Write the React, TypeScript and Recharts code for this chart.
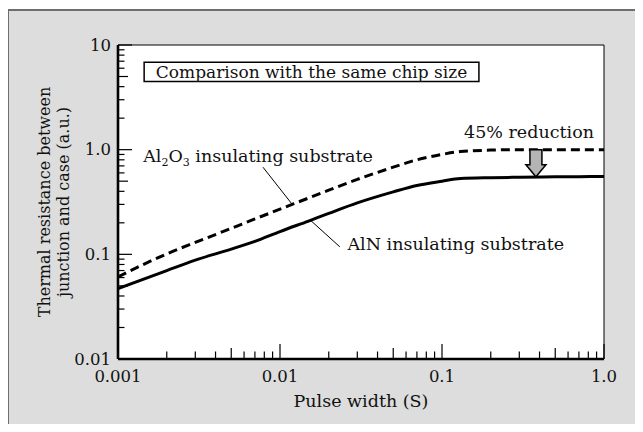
import React from "react";
import {
  LineChart,
  Line,
  XAxis,
  YAxis,
  ReferenceArea,
  ReferenceLine,
  ReferenceDot,
} from "recharts";

const FONT = "'DejaVu Serif', 'Liberation Serif', serif";

// pulse width (s)
const pulseWidth = [0.001, 0.002, 0.003, 0.005, 0.007, 0.01, 0.015, 0.02, 0.03, 0.05, 0.07, 0.1, 0.13, 0.2, 0.3, 0.5, 0.7, 1.0];
// thermal resistance (a.u.)
const al2o3 = [0.061, 0.101, 0.13, 0.177, 0.218, 0.27, 0.345, 0.41, 0.52, 0.68, 0.8, 0.9, 0.96, 0.99, 1.0, 1.0, 1.0, 1.0];
const aln = [0.047, 0.07, 0.088, 0.112, 0.133, 0.165, 0.208, 0.246, 0.31, 0.395, 0.455, 0.5, 0.53, 0.54, 0.545, 0.55, 0.552, 0.555];

const xTicks = [
  0.001, 0.002, 0.003, 0.004, 0.005, 0.006, 0.007, 0.008, 0.009,
  0.01, 0.02, 0.03, 0.04, 0.05, 0.06, 0.07, 0.08, 0.09,
  0.1, 0.2, 0.3, 0.4, 0.5, 0.6, 0.7, 0.8, 0.9, 1.0,
];
const xMajor = [0.001, 0.01, 0.1, 1.0];
const xMid = [0.005, 0.05, 0.5];
const xLabels = ["0.001", "0.01", "0.1", "1.0"];

const yTicks = [
  0.01, 0.02, 0.03, 0.04, 0.05, 0.06, 0.07, 0.08, 0.09,
  0.1, 0.2, 0.3, 0.4, 0.5, 0.6, 0.7, 0.8, 0.9,
  1, 2, 3, 4, 5, 6, 7, 8, 9, 10,
];
const yMajor = [0.01, 0.1, 1, 10];
const yMid = [0.05, 0.5, 5];
const yLabels = ["0.01", "0.1", "1.0", "10"];

const data = pulseWidth.map((x, i) => ({ x, al2o3: al2o3[i], aln: aln[i] }));

function XTick(props: any) {
  const { x, y, payload } = props;
  const v = payload.value;
  const mi = xMajor.indexOf(v);
  const len = mi >= 0 ? 15 : xMid.includes(v) ? 11 : 7.5;
  return (
    <g>
      <line x1={x} x2={x} y1={y} y2={y - len} stroke="#000" strokeWidth={1.2} />
      {mi >= 0 && (
        <text x={x} y={y + 23} textAnchor="middle" fontSize={16.5} fontFamily={FONT} fill="#111">
          {xLabels[mi]}
        </text>
      )}
    </g>
  );
}

function YTick(props: any) {
  const { x, y, payload } = props;
  const v = payload.value;
  const mi = yMajor.indexOf(v);
  const len = mi >= 0 ? 14 : yMid.includes(v) ? 10 : 6.5;
  return (
    <g>
      <line x1={x} x2={x + len} y1={y} y2={y} stroke="#000" strokeWidth={1.2} />
      {mi >= 0 && (
        <text x={x - 7} y={y} textAnchor="end" dominantBaseline="central" fontSize={16.5} fontFamily={FONT} fill="#111">
          {yLabels[mi]}
        </text>
      )}
    </g>
  );
}

const txt = (s: string, anchor: "start" | "end" | "middle" = "start") => (p: any) => (
  <text x={p.cx} y={p.cy} textAnchor={anchor} fontSize={17.5} fontFamily={FONT} fill="#111">
    {s}
  </text>
);

const Al2O3Label = (p: any) => (
  <text x={p.cx} y={p.cy} fontSize={17.5} fontFamily={FONT} fill="#111">
    Al
    <tspan fontSize={11} dy={4}>2</tspan>
    <tspan dy={-4}>O</tspan>
    <tspan fontSize={11} dy={4}>3</tspan>
    <tspan dy={-4}> insulating substrate</tspan>
  </text>
);

const DownArrow = (p: any) => {
  const { x1, y1, y2 } = p;
  const cx = x1;
  const hw = 6;
  const hh = 10;
  const head = 12;
  const pts = [
    [cx - hw, y1], [cx + hw, y1], [cx + hw, y2 - head], [cx + hh, y2 - head],
    [cx, y2], [cx - hh, y2 - head], [cx - hw, y2 - head],
  ].map((q) => q.join(",")).join(" ");
  return <polygon points={pts} fill="#b4b4b4" stroke="#000" strokeWidth={1.5} strokeLinejoin="miter" />;
};

export default function App() {
  return (
    <div style={{ position: "relative", width: 643, height: 432, margin: -8, background: "#fff", overflow: "hidden" }}>
      <div
        style={{
          position: "absolute", left: 7, top: 9, width: 635, height: 440,
          background: "#dcdddc", border: "2px solid #6e6e6e", boxSizing: "border-box",
        }}
      />
      <div style={{ position: "absolute", left: 0, top: 0 }}>
        <LineChart width={643} height={432} data={data} margin={{ top: 45, right: 39, bottom: 0, left: 0 }}>
          <XAxis
            dataKey="x"
            type="number"
            scale="log"
            domain={[0.001, 1]}
            ticks={xTicks}
            interval={0}
            tick={<XTick />}
            tickLine={false}
            tickSize={0}
            tickMargin={0}
            height={73}
            allowDataOverflow
            axisLine={false}
            label={{
              content: (p: any) => {
                const vb = p.viewBox;
                return (
                  <text x={vb.x + vb.width / 2} y={407} textAnchor="middle" fontSize={17.5} fontFamily={FONT} fill="#111">
                    Pulse width (S)
                  </text>
                );
              },
            }}
          />
          <YAxis
            type="number"
            scale="log"
            domain={[0.01, 10]}
            ticks={yTicks}
            interval={0}
            tick={<YTick />}
            tickLine={false}
            tickSize={0}
            tickMargin={0}
            width={118}
            allowDataOverflow
            axisLine={false}
            label={{
              content: (p: any) => {
                const vb = p.viewBox;
                const cy = vb.y + vb.height / 2;
                return (
                  <g fontSize={16} fontFamily={FONT} fill="#111">
                    <text x={44} y={cy} transform={`rotate(-90 44 ${cy})`} textAnchor="middle" dominantBaseline="central">
                      Thermal resistance between
                    </text>
                    <text x={63} y={cy} transform={`rotate(-90 63 ${cy})`} textAnchor="middle" dominantBaseline="central">
                      junction and case (a.u.)
                    </text>
                  </g>
                );
              },
            }}
          />
          <ReferenceArea x1={0.001} x2={1} y1={0.01} y2={10} fill="#fff" fillOpacity={1} stroke="#000" strokeWidth={1} />
          <ReferenceLine segment={[{ x: 0.001, y: 0.01 }, { x: 1, y: 0.01 }]} stroke="#000" strokeWidth={2.6} />
          <ReferenceLine segment={[{ x: 0.001, y: 0.01 }, { x: 0.001, y: 10 }]} stroke="#000" strokeWidth={2.6} />
          <ReferenceArea
            x1={0.00145}
            x2={0.169}
            y1={4.48}
            y2={6.84}
            fill="#fff"
            fillOpacity={1}
            stroke="#000"
            strokeWidth={1.5}
            label={{
              content: (p: any) => {
                const vb = p.viewBox;
                return (
                  <text x={vb.x + vb.width / 2} y={vb.y + vb.height / 2} textAnchor="middle" dominantBaseline="central" fontSize={17} fontFamily={FONT} fill="#111">
                    Comparison with the same chip size
                  </text>
                );
              },
            }}
          />
          <Line dataKey="al2o3" type="monotone" stroke="#000" strokeWidth={3} strokeDasharray="9 5" dot={false} isAnimationActive={false} />
          <Line dataKey="aln" type="monotone" stroke="#000" strokeWidth={3} dot={false} isAnimationActive={false} />
          <ReferenceLine segment={[{ x: 0.00785, y: 0.68 }, { x: 0.0119, y: 0.3 }]} stroke="#000" strokeWidth={1} />
          <ReferenceLine segment={[{ x: 0.0155, y: 0.21 }, { x: 0.0234, y: 0.118 }]} stroke="#000" strokeWidth={1} />
          <ReferenceLine segment={[{ x: 0.38, y: 1.0 }, { x: 0.38, y: 0.55 }]} shape={DownArrow} />
          <ReferenceDot x={0.00143} y={0.76} r={0} shape={Al2O3Label} />
          <ReferenceDot x={0.0261} y={0.11} r={0} shape={txt("AlN insulating substrate")} />
          <ReferenceDot x={0.867} y={1.29} r={0} shape={txt("45% reduction", "end")} />
        </LineChart>
      </div>
    </div>
  );
}
